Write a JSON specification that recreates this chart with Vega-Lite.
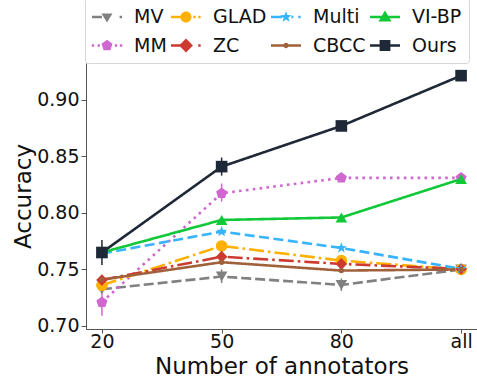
{
  "$schema": "https://vega.github.io/schema/vega-lite/v6.json",
  "width": 391,
  "height": 266,
  "autosize": {"type": "none"},
  "padding": {"left": 86, "top": 63, "right": 0, "bottom": 52},
  "background": "white",
  "config": {
    "view": {"stroke": null},
    "font": "DejaVu Sans",
    "axis": {
      "grid": false,
      "domainColor": "#555555",
      "tickColor": "#555555",
      "labelFontSize": 19,
      "labelColor": "#111111",
      "titleFontSize": 23,
      "titleFontWeight": "normal",
      "titleColor": "#111111",
      "labelFont": "DejaVu Sans",
      "titleFont": "DejaVu Sans"
    },
    "legend": {
      "labelFont": "DejaVu Sans"
    }
  },
  "resolve": {"legend": {"color": "independent"}},
  "data": {
    "values": [
      {"s": "MV", "x": "20", "acc": 0.7325},
      {"s": "MV", "x": "50", "acc": 0.7437, "lo": 0.738, "hi": 0.750},
      {"s": "MV", "x": "80", "acc": 0.7363, "lo": 0.731, "hi": 0.742},
      {"s": "MV", "x": "all", "acc": 0.750},
      {"s": "MM", "x": "20", "acc": 0.721, "lo": 0.709, "hi": 0.731},
      {"s": "MM", "x": "50", "acc": 0.8174, "lo": 0.810, "hi": 0.826},
      {"s": "MM", "x": "80", "acc": 0.831},
      {"s": "MM", "x": "all", "acc": 0.831},
      {"s": "GLAD", "x": "20", "acc": 0.736},
      {"s": "GLAD", "x": "50", "acc": 0.7708},
      {"s": "GLAD", "x": "80", "acc": 0.7578},
      {"s": "GLAD", "x": "all", "acc": 0.750},
      {"s": "ZC", "x": "20", "acc": 0.7407},
      {"s": "ZC", "x": "50", "acc": 0.7613, "lo": 0.756, "hi": 0.767},
      {"s": "ZC", "x": "80", "acc": 0.7549},
      {"s": "ZC", "x": "all", "acc": 0.7504},
      {"s": "Multi", "x": "20", "acc": 0.764},
      {"s": "Multi", "x": "50", "acc": 0.7835},
      {"s": "Multi", "x": "80", "acc": 0.769},
      {"s": "Multi", "x": "all", "acc": 0.7505},
      {"s": "CBCC", "x": "20", "acc": 0.741},
      {"s": "CBCC", "x": "50", "acc": 0.7564},
      {"s": "CBCC", "x": "80", "acc": 0.749},
      {"s": "CBCC", "x": "all", "acc": 0.750},
      {"s": "VI-BP", "x": "20", "acc": 0.765},
      {"s": "VI-BP", "x": "50", "acc": 0.7938},
      {"s": "VI-BP", "x": "80", "acc": 0.796},
      {"s": "VI-BP", "x": "all", "acc": 0.830},
      {"s": "Ours", "x": "20", "acc": 0.765, "lo": 0.754, "hi": 0.776},
      {"s": "Ours", "x": "50", "acc": 0.841, "lo": 0.833, "hi": 0.849},
      {"s": "Ours", "x": "80", "acc": 0.877},
      {"s": "Ours", "x": "all", "acc": 0.9215}
    ]
  },
  "encoding": {
    "x": {
      "field": "x",
      "type": "ordinal",
      "sort": ["20", "50", "80", "all"],
      "scale": {"type": "point", "domain": ["20", "50", "80", "all"], "padding": 0.133},
      "axis": {"title": "Number of annotators", "labelAngle": 0, "tickSize": 4, "labelPadding": -1, "titlePadding": 4}
    },
    "y": {
      "field": "acc",
      "type": "quantitative",
      "scale": {"domain": [0.6973, 0.9327], "nice": false, "zero": false},
      "axis": {"title": "Accuracy", "values": [0.7, 0.75, 0.8, 0.85, 0.9], "format": ".2f", "tickSize": 5, "labelPadding": 2, "titlePadding": 1}
    },
    "color": {
      "field": "s",
      "type": "nominal",
      "scale": {
        "domain": ["MV", "MM", "GLAD", "ZC", "Multi", "CBCC", "VI-BP", "Ours"],
        "range": ["#808080", "#d066d0", "#ffb000", "#cc3a30", "#38b4ff", "#a0603a", "#10c838", "#1e2836"]
      },
      "legend": null
    }
  },
  "layer": [
    {
      "transform": [{"filter": "isValid(datum.lo)"}],
      "mark": {"type": "rule", "strokeWidth": 1.5},
      "encoding": {
        "y": {"field": "lo", "type": "quantitative"},
        "y2": {"field": "hi"}
      }
    },
    {
      "mark": {"type": "line", "strokeWidth": 2.6},
      "encoding": {
        "strokeDash": {
          "field": "s",
          "type": "nominal",
          "scale": {
            "domain": ["MV", "MM", "GLAD", "ZC", "Multi", "CBCC", "VI-BP", "Ours"],
            "range": [[10, 4], [2.6, 4.3], [15, 4, 2.6, 4], [15, 4, 2.6, 4], [10, 4.5], [1, 0], [1, 0], [1, 0]]
          },
          "legend": null
        }
      }
    },
    {
      "mark": {"type": "point", "filled": true, "opacity": 1, "strokeWidth": 0},
      "encoding": {
        "shape": {
          "field": "s",
          "type": "nominal",
          "scale": {
            "domain": ["MV", "MM", "GLAD", "ZC", "Multi", "CBCC", "VI-BP", "Ours"],
            "range": ["triangle-down", "M0,-1L0.951,-0.309L0.588,0.809L-0.588,0.809L-0.951,-0.309Z", "circle", "diamond", "M0,-1L0.235,-0.324L0.951,-0.309L0.38,0.124L0.588,0.809L0,0.4L-0.588,0.809L-0.38,0.124L-0.951,-0.309L-0.235,-0.324Z", "circle", "triangle-up", "square"]
          },
          "legend": null
        },
        "size": {
          "condition": {"test": "datum.s === 'CBCC'", "value": 30},
          "value": 135
        },
        "color": {
          "field": "s",
          "type": "nominal",
          "legend": {
            "title": null,
            "orient": "none",
            "legendX": -1,
            "legendY": -65,
            "columns": 4,
            "columnPadding": 4,
            "rowPadding": 6.5,
            "padding": 7,
            "labelFontSize": 19,
            "labelColor": "#111111",
            "symbolOffset": 3,
            "labelOffset": 15,
            "symbolSize": 576,
            "symbolStrokeWidth": 0,
            "symbolOpacity": 1,
            "strokeColor": "#d6d6d6",
            "fillColor": "white",
            "cornerRadius": 3,
            "symbolType": {"expr": "datum.value==='MV' ? 'M-1.25,-0.1H-0.42V0.1H-1.25Z M1.05,-0.1H1.25V0.1H1.05Z M-0.46,-0.3L0.46,-0.3L0,0.46Z' : datum.value==='MM' ? 'M-1.27,-0.1H-1.07V0.1H-1.27Z M-0.79,-0.1H-0.59V0.1H-0.79Z M0.65,-0.1H0.85V0.1H0.65Z M1.07,-0.1H1.27V0.1H1.07Z M0,-0.48L0.457,-0.148L0.282,0.388L-0.282,0.388L-0.457,-0.148Z' : datum.value==='GLAD' ? 'M-1.25,-0.1H-0.3V0.1H-1.25Z M0.6,-0.1H0.8V0.1H0.6Z M1.02,-0.1H1.22V0.1H1.02Z M0.46,0A0.46,0.46 0 1,1 -0.46,0A0.46,0.46 0 1,1 0.46,0Z' : datum.value==='ZC' ? 'M-1.25,-0.1H-0.4V0.1H-1.25Z M1.02,-0.1H1.22V0.1H1.02Z M0,-0.58L0.58,0L0,0.58L-0.58,0Z' : datum.value==='Multi' ? 'M-1.25,-0.1H-0.3V0.1H-1.25Z M0.45,-0.1H0.62V0.1H0.45Z M1.02,-0.1H1.22V0.1H1.02Z M0,-0.5L0.118,-0.162L0.476,-0.155L0.19,0.062L0.294,0.405L0,0.2L-0.294,0.405L-0.19,0.062L-0.476,-0.155L-0.118,-0.162Z' : datum.value==='CBCC' ? 'M-1.25,-0.1H1.25V0.1H-1.25Z M0.22,0A0.22,0.22 0 1,1 -0.22,0A0.22,0.22 0 1,1 0.22,0Z' : datum.value==='VI-BP' ? 'M-1.25,-0.1H1.25V0.1H-1.25Z M0,-0.55L0.55,0.38L-0.55,0.38Z' : 'M-1.25,-0.1H1.25V0.1H-1.25Z M-0.45,-0.45H0.45V0.45H-0.45Z'"}
          }
        }
      }
    }
  ]
}
